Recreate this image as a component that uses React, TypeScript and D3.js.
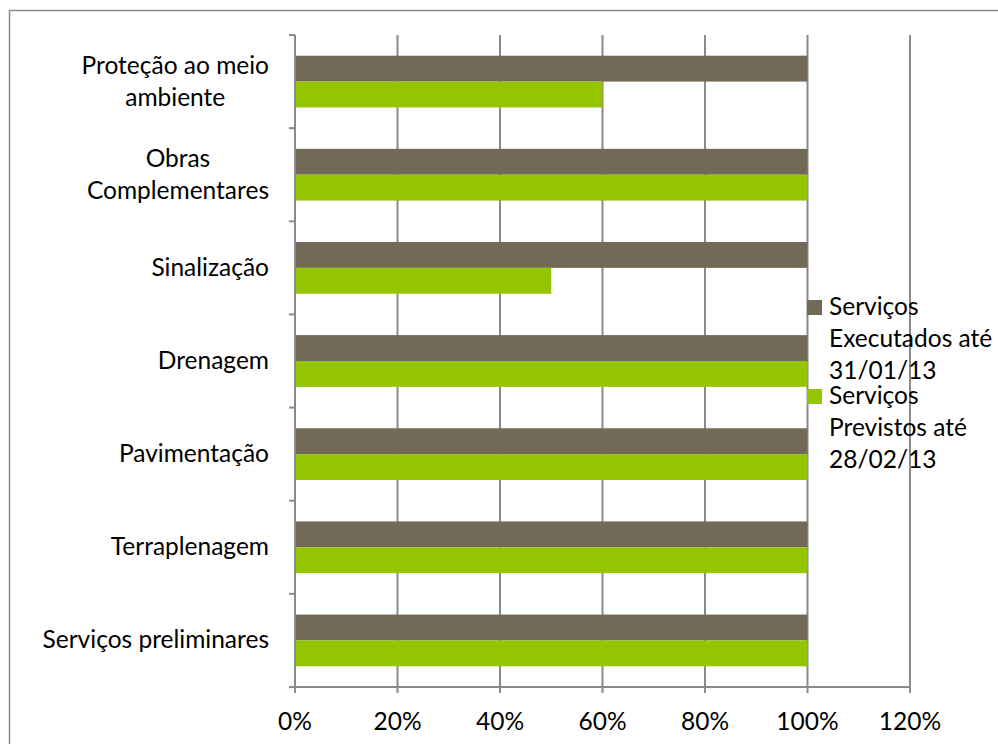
import React, { useEffect, useRef } from 'react';
import * as d3 from 'd3';

const categories = [
  'Proteção ao meio ambiente',
  'Obras Complementares',
  'Sinalização',
  'Drenagem',
  'Pavimentação',
  'Terraplenagem',
  'Serviços preliminares',
];
// quebras de linha como no original
const categoryLines = [
  ['Proteção ao meio', 'ambiente'],
  ['Obras', 'Complementares'],
  ['Sinalização'],
  ['Drenagem'],
  ['Pavimentação'],
  ['Terraplenagem'],
  ['Serviços preliminares'],
];
const seriesNames = ['Executados', 'Previstos'];
const executados = [1, 1, 1, 1, 1, 1, 1];
const previstos = [0.6, 1, 0.5, 1, 1, 1, 1];
const legendLines = [
  ['Serviços', 'Executados até', '31/01/13'],
  ['Serviços', 'Previstos até', '28/02/13'],
];
const xTicks = [0, 0.2, 0.4, 0.6, 0.8, 1.0, 1.2];
const colors = ['#726959', '#93c600'];

const App: React.FC = () => {
  const svgRef = useRef<SVGSVGElement>(null);

  useEffect(() => {
    if (!svgRef.current) return;
    const svg = d3.select(svgRef.current);
    svg.selectAll('*').remove();

    const width = 998;
    const height = 744;
    const font = 'Lato, "Noto Sans", sans-serif';
    const fontSize = 24.5;
    const grid = '#8a8a8a';
    const plot = { left: 295, right: 910, top: 35, bottom: 687 };

    svg.attr('width', width).attr('height', height);

    // moldura (cortada à direita e embaixo)
    svg.append('path')
      .attr('d', `M9.5,${height + 2}V10.5H${width + 2}`)
      .attr('fill', 'none')
      .attr('stroke', '#8c8c8c')
      .attr('stroke-width', 1.5);

    const x = d3.scaleLinear().domain([0, 1.2]).range([plot.left, plot.right]);
    const y = d3.scaleBand().domain(categories).range([plot.top, plot.bottom]).padding(0);
    const yInner = d3.scaleBand()
      .domain(seriesNames)
      .range([0, y.bandwidth()])
      .paddingInner(0)
      .paddingOuter(0.8);

    // linhas de grade
    svg.append('g')
      .selectAll('line')
      .data(xTicks.slice(1))
      .enter()
      .append('line')
      .attr('x1', d => x(d))
      .attr('x2', d => x(d))
      .attr('y1', plot.top)
      .attr('y2', plot.bottom + 6)
      .attr('stroke', grid)
      .attr('stroke-width', 2);

    // barras
    const values = [executados, previstos];
    seriesNames.forEach((s, si) => {
      svg.append('g')
        .selectAll('rect')
        .data(categories)
        .enter()
        .append('rect')
        .attr('x', x(0))
        .attr('y', d => (y(d) || 0) + (yInner(s) || 0))
        .attr('width', (_, i) => x(values[si][i]) - x(0))
        .attr('height', yInner.bandwidth())
        .attr('fill', colors[si]);
    });

    // eixo vertical + marcas
    svg.append('line')
      .attr('x1', plot.left).attr('x2', plot.left)
      .attr('y1', plot.top).attr('y2', plot.bottom + 6)
      .attr('stroke', grid).attr('stroke-width', 2);
    const yTickPos = categories.map(c => y(c) || 0).concat([plot.bottom]);
    svg.append('g')
      .selectAll('line')
      .data(yTickPos)
      .enter()
      .append('line')
      .attr('x1', plot.left - 6)
      .attr('x2', plot.left)
      .attr('y1', d => d)
      .attr('y2', d => d)
      .attr('stroke', grid)
      .attr('stroke-width', 2);

    // eixo horizontal
    svg.append('line')
      .attr('x1', plot.left - 6).attr('x2', plot.right + 1)
      .attr('y1', plot.bottom).attr('y2', plot.bottom)
      .attr('stroke', grid).attr('stroke-width', 2);

    svg.append('g')
      .selectAll('text')
      .data(xTicks)
      .enter()
      .append('text')
      .attr('x', d => x(d))
      .attr('y', 730)
      .attr('text-anchor', 'middle')
      .attr('font-family', font)
      .attr('font-size', fontSize)
      .attr('fill', '#000')
      .text(d => d3.format('.0%')(d));

    // rótulos das categorias
    const labelRight = 269;
    const lineH = 32;
    categories.forEach((c, i) => {
      const lines = categoryLines[i];
      const cy = (y(c) || 0) + y.bandwidth() / 2;
      const g = svg.append('g');
      const texts = g.selectAll('text')
        .data(lines)
        .enter()
        .append('text')
        .attr('y', (_, li) => cy + 8 + (li - (lines.length - 1) / 2) * lineH)
        .attr('text-anchor', 'middle')
        .attr('font-family', font)
        .attr('font-size', fontSize)
        .attr('fill', '#000')
        .text(d => d);
      let maxW = 0;
      texts.each(function () {
        maxW = Math.max(maxW, (this as SVGTextElement).getComputedTextLength());
      });
      texts.attr('x', labelRight - maxW / 2);
    });

    // legenda
    const legendX = 807;
    const legendTop = [315, 404];
    legendLines.forEach((lines, li) => {
      svg.append('rect')
        .attr('x', legendX)
        .attr('y', legendTop[li] - 15)
        .attr('width', 15)
        .attr('height', 15)
        .attr('fill', colors[li]);
      svg.append('g')
        .selectAll('text')
        .data(lines)
        .enter()
        .append('text')
        .attr('x', legendX + 22)
        .attr('y', (_, k) => legendTop[li] + k * 32)
        .attr('font-family', font)
        .attr('font-size', fontSize)
        .attr('fill', '#000')
        .text(d => d);
    });
  }, []);

  return (
    <div style={{ position: 'absolute', left: 0, top: 0, background: '#fff' }}>
      <svg ref={svgRef} style={{ display: 'block' }}></svg>
    </div>
  );
};

export default App;
